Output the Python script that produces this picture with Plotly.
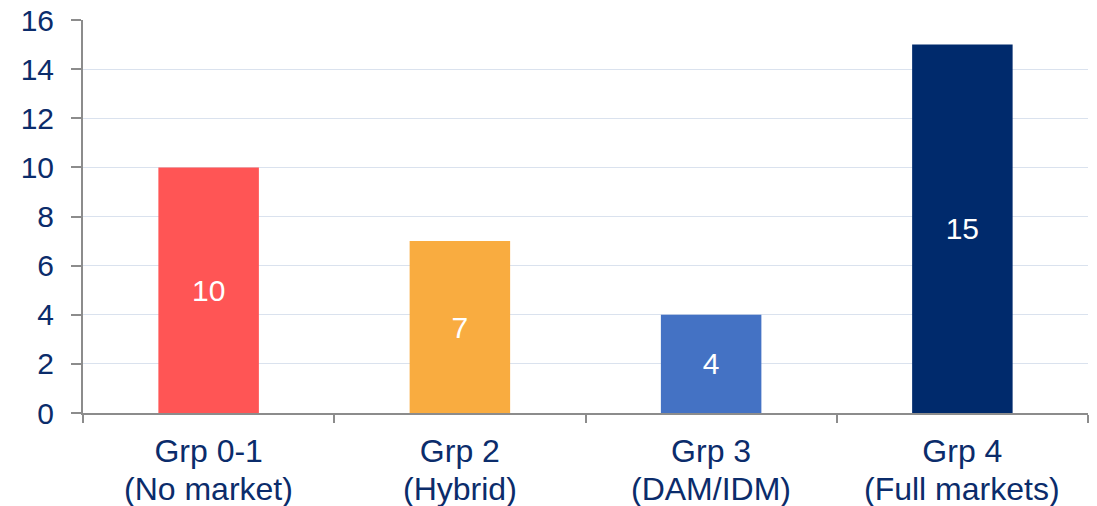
import plotly.graph_objects as go

categories = ["Grp 0-1", "Grp 2", "Grp 3", "Grp 4"]
subtitles = ["(No market)", "(Hybrid)", "(DAM/IDM)", "(Full markets)"]
values = [10, 7, 4, 15]
bar_colors = ["#FF5555", "#F9AC40", "#4472C4", "#002A6C"]

text_color = "#0B2C6B"
axis_color = "#8C8C8C"
font_family = "Liberation Sans, Arial, sans-serif"

fig = go.Figure()
fig.add_trace(go.Bar(
    x=categories,
    y=values,
    marker=dict(color=bar_colors, line=dict(width=0)),
    text=[str(v) for v in values],
    textposition="inside",
    insidetextanchor="middle",
    textfont=dict(color="white", size=30, family=font_family),
    textangle=0,
    hoverinfo="skip",
))

# second line of each category label (tighter line spacing than <br> gives)
for cat, sub in zip(categories, subtitles):
    fig.add_annotation(
        x=cat, xref="x",
        y=0, yref="paper",
        yanchor="middle",
        yshift=-76,
        text=sub,
        showarrow=False,
        font=dict(size=32, color=text_color, family=font_family),
    )

fig.update_layout(
    width=1097,
    height=506,
    margin=dict(l=83, r=9, t=20, b=93, autoexpand=False),
    plot_bgcolor="white",
    paper_bgcolor="white",
    bargap=0.6,
    showlegend=False,
    font=dict(family=font_family, color=text_color, size=31),
    uniformtext=dict(mode="show", minsize=10),
)

fig.update_xaxes(
    automargin=False,
    showline=True,
    linecolor=axis_color,
    linewidth=2,
    ticks="outside",
    tickson="boundaries",
    ticklen=8,
    tickwidth=2,
    tickcolor=axis_color,
    showgrid=False,
    ticklabelstandoff=9,
    tickfont=dict(size=32, color=text_color),
)

fig.update_yaxes(
    automargin=False,
    range=[0, 16],
    dtick=2,
    showline=True,
    linecolor=axis_color,
    linewidth=2,
    ticks="outside",
    ticklen=10,
    tickwidth=2,
    tickcolor=axis_color,
    showgrid=True,
    gridcolor="#DAE2EE",
    gridwidth=1,
    zeroline=False,
    ticklabelstandoff=11,
    tickfont=dict(size=30, color=text_color),
)

# drop the default page margin so the figure sits at the window origin
fig.write_html(
    "out.html",
    config={"displayModeBar": False},
    post_script="document.body.style.margin='0';",
)
